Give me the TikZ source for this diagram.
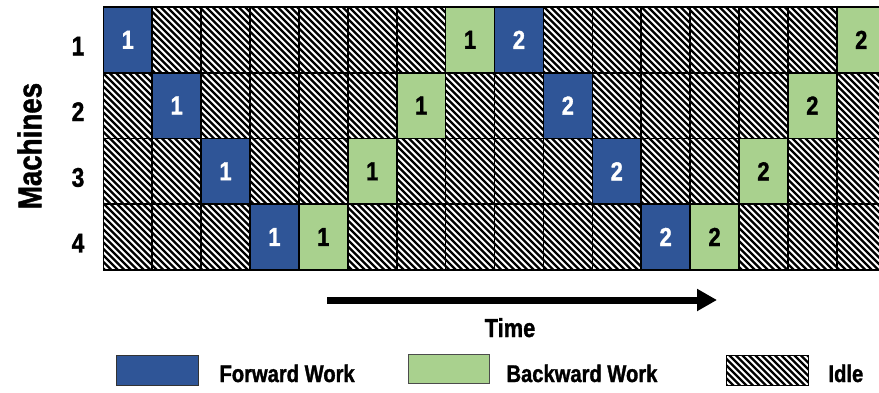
\documentclass[tikz,border=0pt]{standalone}
\usepackage{fontspec}
\setmainfont{Liberation Sans}[FakeStretch=0.84, BoldFeatures={FakeBold=1.3}]
\usetikzlibrary{arrows.meta}
\definecolor{fwdblue}{RGB}{47,85,151}
\definecolor{bwdgreen}{RGB}{169,209,142}
\begin{document}
\begin{tikzpicture}[x=1pt,y=-1pt,
  cellbox/.style={draw=black,line width=1.6pt,minimum width=48.9pt,minimum height=65.7pt,inner sep=0pt,outer sep=0pt,font=\bfseries\fontsize{26}{26}\selectfont},
  rowlab/.style={font=\bfseries\fontsize{27}{27}\selectfont,anchor=base},
  legtext/.style={font=\bfseries\fontsize{24}{24}\selectfont,anchor=base west},
  legbox/.style={line width=1pt,minimum width=82pt,minimum height=30pt,inner sep=0pt,outer sep=0pt},
  hatch/.style={line width=2.2pt,black},
  gridline/.style={line width=1.6pt,black}]
\useasboundingbox (0,0) rectangle (879,392);
\fill[white] (0,0) rectangle (879,392);
% idle hatching over the whole grid
\begin{scope}
  \clip (103.3,7) rectangle (879,269.8);
  \foreach \a in {-282,-275.5,...,890} \draw[hatch] (\a,0) -- ++(280,280);
\end{scope}
% grid lines
\foreach \i in {0,...,15} \draw[gridline] ({103.3+48.9*\i},7) -- ({103.3+48.9*\i},269.8);
\foreach \j in {0,...,4} \draw[gridline] (103.3,{7+65.7*\j}) -- (879,{7+65.7*\j});
% work cells
\foreach \r/\c/\fc/\tc/\t in {1/1/fwdblue/white/1, 1/8/bwdgreen/black/1, 1/9/fwdblue/white/2, 1/16/bwdgreen/black/2,
  2/2/fwdblue/white/1, 2/7/bwdgreen/black/1, 2/10/fwdblue/white/2, 2/15/bwdgreen/black/2,
  3/3/fwdblue/white/1, 3/6/bwdgreen/black/1, 3/11/fwdblue/white/2, 3/14/bwdgreen/black/2,
  4/4/fwdblue/white/1, 4/5/bwdgreen/black/1, 4/12/fwdblue/white/2, 4/13/bwdgreen/black/2}
  \node[cellbox,fill=\fc,text=\tc] (cell-\r-\c) at ({103.3+48.9*(\c-0.5)},{7+65.7*(\r-0.5)}) {\t};
% row labels
\foreach \r in {1,...,4}
  \node[rowlab] (row-\r) at (78,{7+65.7*(\r-0.5)+15.5}) {\r};
\node[rotate=90,font=\bfseries\fontsize{33}{33}\selectfont] (ylab) at (29.5,146) {Machines};
% time arrow
\coordinate (tstart) at (327,300);
\coordinate (tend) at (717,300);
\draw[line width=7pt,-{Triangle[length=20pt,width=21pt]}] (tstart) -- (tend);
\node[font=\bfseries\fontsize{26}{26}\selectfont,anchor=base] (timelab) at (510,337) {Time};
% legend
\node[legbox,draw=black!80,fill=fwdblue] (leg-fwd) at (157,370) {};
\node[legtext] (leg-fwd-t) at (216,382) {Forward Work};
\node[legbox,draw=black!70,fill=bwdgreen,minimum width=81pt,minimum height=29pt] (leg-bwd) at (448.5,368.5) {};
\node[legtext] (leg-bwd-t) at (503,382) {Backward Work};
\node[legbox] (leg-idle) at (767,370) {};
\begin{scope}
  \clip (leg-idle.north west) rectangle (leg-idle.south east);
  \foreach \a in {-36,-29.5,...,90} \draw[hatch] (726+\a,355) -- ++(32,32);
\end{scope}
\draw[line width=1pt] (leg-idle.north west) rectangle (leg-idle.south east);
\node[legtext] (leg-idle-t) at (825,382) {Idle};
\end{tikzpicture}
\end{document}
